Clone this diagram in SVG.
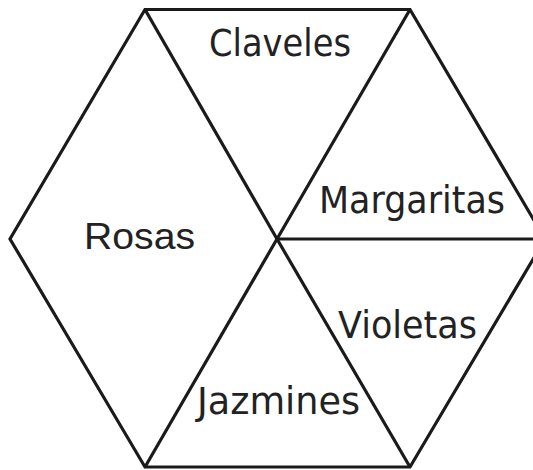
<svg xmlns="http://www.w3.org/2000/svg" width="533" height="470" viewBox="0 0 533 470">
<style>
.ln{stroke:#1a1a1a;stroke-width:3.2;fill:none;stroke-linejoin:miter}
.t{font-family:"DejaVu Sans",Verdana,sans-serif;font-size:37px;fill:#222}
.r{font-family:"Liberation Sans",Arial,sans-serif;font-size:37px;fill:#222}
</style>
<rect width="533" height="470" fill="#fff"/>
<g id="connectors">
<polygon class="ln" points="145,9.5 410,9.5 545,239 410,467 145,467 10,239"/>
<line class="ln" x1="145" y1="9.5" x2="277" y2="239"/>
<line class="ln" x1="410" y1="9.5" x2="277" y2="239"/>
<line class="ln" x1="277" y1="239" x2="545" y2="239"/>
<line class="ln" x1="145" y1="467" x2="277" y2="239"/>
<line class="ln" x1="410" y1="467" x2="277" y2="239"/>
</g>
<g id="claveles"><text class="t" x="209" y="56" textLength="142" lengthAdjust="spacingAndGlyphs">Claveles</text></g>
<g id="margaritas"><text class="t" x="319" y="213" textLength="186" lengthAdjust="spacingAndGlyphs">Margaritas</text></g>
<g id="rosas"><text class="r" x="84" y="249" textLength="111" lengthAdjust="spacingAndGlyphs">Rosas</text></g>
<g id="violetas"><text class="t" x="338" y="338" textLength="139" lengthAdjust="spacingAndGlyphs">Violetas</text></g>
<g id="jazmines"><text class="t" x="197" y="414" textLength="163" lengthAdjust="spacingAndGlyphs">Jazmines</text></g>
</svg>
